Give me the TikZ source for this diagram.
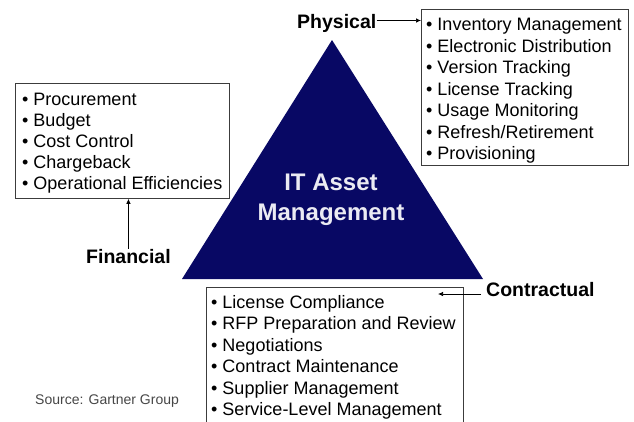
\documentclass[tikz,border=0pt]{standalone}
\usepackage{fontspec}
\setmainfont{Liberation Sans}
\usetikzlibrary{arrows.meta}
\definecolor{navy}{RGB}{8,8,100}
\definecolor{boxline}{RGB}{60,60,60}
\definecolor{srcgray}{RGB}{70,70,70}
\begin{document}
\begin{tikzpicture}[x=1pt,y=-1pt,
  box/.style={draw=boxline, line width=0.8pt, inner sep=0, anchor=north west},
  item/.style={anchor=base west, inner sep=0, font=\fontsize{18}{21.5}\selectfont},
  lab/.style={anchor=base west, inner sep=0, font=\bfseries\fontsize{19.5}{22}\selectfont},
  conn/.style={-{Latex[length=5pt,width=4.5pt]}, line width=0.7pt}]
\useasboundingbox (0,0) rectangle (634,421);
% triangle
\fill[navy] (332,40) -- (483,279) -- (182,279) -- cycle;
\node[inner sep=0, text=white!92!navy, align=center,
  font=\bfseries\fontsize{24}{29.5}\selectfont, anchor=base] (itam) at (331,220) {IT Asset\\Management};
% boxes
\node[box, minimum width=207pt, minimum height=156pt] (pbox) at (421,9) {};
\node[box, minimum width=214pt, minimum height=115pt] (fbox) at (15,83) {};
\node[box, minimum width=257pt, minimum height=140pt] (cbox) at (206,287) {};
% physical items
\foreach \t [count=\i from 0] in {Inventory Management,Electronic Distribution,Version Tracking,License Tracking,Usage Monitoring,Refresh/Retirement,Provisioning}
  \node[item] (p\i) at (426,30.5+21.5*\i) {\textbullet\ \t};
% financial items
\foreach \t [count=\i from 0] in {Procurement,Budget,Cost Control,Chargeback,Operational Efficiencies}
  \node[item] (f\i) at (22,105+21*\i) {\textbullet\ \t};
% contractual items
\foreach \t [count=\i from 0] in {License Compliance,RFP Preparation and Review,Negotiations,Contract Maintenance,Supplier Management,Service-Level Management}
  \node[item] (c\i) at (211,308+21.5*\i) {\textbullet\ \t};
% labels
\node[lab] (phys) at (297,28) {Physical};
\node[lab] (fin) at (86,263) {Financial};
\node[lab] (cont) at (486,296.5) {Contractual};
\node[anchor=base west, inner sep=0, text=srcgray, font=\fontsize{14}{16}\selectfont] (src) at (35,404) {Source: Gartner Group};
% connectors
\coordinate (pa) at ([yshift=7.5pt]phys.base east);
\draw[conn] (pa) -- (pa -| pbox.west);
\draw[conn] (fin.north) -- (fin.north |- fbox.south);
\coordinate (ca) at ([xshift=-5pt,yshift=2.5pt]cont.base west);
\path (ca) ++(-43,0) coordinate (ce);
\draw[conn] (ca) -- (ce);
\end{tikzpicture}
\end{document}
